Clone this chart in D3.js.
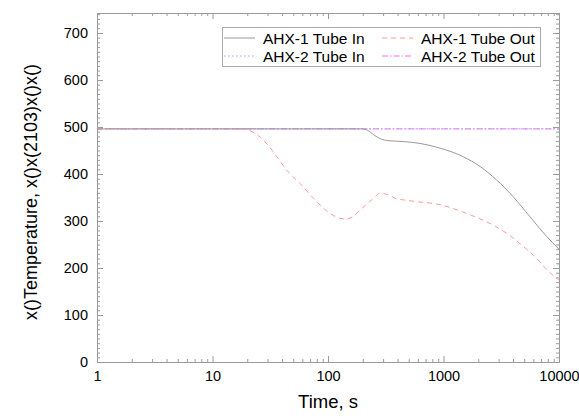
<!DOCTYPE html>
<html>
<head>
    <title>AHX Tube Temperatures</title>
    <script src="https://d3js.org/d3.v7.min.js"></script>
    <style>
        body { margin: 0; background: #fff; }
        text { font-family: Arial, "Liberation Sans", sans-serif; fill: #000; }
    </style>
</head>
<body>
    <svg width="579" height="416"></svg>
    <script>
        // Data: [time in s, temperature]
        const ahx1In = [[1,496],[100,496],[200,496],[220,493],[250,483],[290,474],[330,471],[450,469],
                        [626,465],[933,455],[1475,437],[2070,416],[2890,387],[4000,352],[5610,309],
                        [7820,267],[10000,240]];
        const ahx1Out = [[1,496],[18,496],[22,490],[26,478],[31,458],[37,433],[44,408],[57,380],
                         [80,341],[104,316],[125,306],[145,304],[165,310],[189,323],[247,348],[282,359],
                         [330,356],[393,347],[449,345],[548,342],[1000,333],[1400,321],[2000,306],
                         [2800,289],[3800,268],[4900,246],[6200,224],[7800,197],[10000,174]];
        const ahx2In = [[1,496],[10,496],[100,496],[1000,496],[10000,496]];
        const ahx2Out = [[1,496],[10,496],[100,496],[1000,496],[10000,496]];

        const seriesNames = ["AHX-1 Tube In", "AHX-1 Tube Out", "AHX-2 Tube In", "AHX-2 Tube Out"];
        const xMajor = [1, 10, 100, 1000, 10000];
        const yMajor = [0, 100, 200, 300, 400, 500, 600, 700];

        const series = [
            {name: seriesNames[0], values: ahx1In,  color: "#999999", dash: null},
            {name: seriesNames[1], values: ahx1Out, color: "#ff9a9a", dash: "5,4"},
            {name: seriesNames[2], values: ahx2In,  color: "#a0a0ff", dash: "1.5,2.5"},
            {name: seriesNames[3], values: ahx2Out, color: "#f070f0", dash: "6,2,1.5,2"}
        ];

        // plot frame edges
        const frame = {left: 97, right: 559, top: 13, bottom: 362};
        const svg = d3.select("svg");

        const x = d3.scaleLog().domain([1, 10000]).range([frame.left, frame.right]);
        const y = d3.scaleLinear().domain([0, 742.5]).range([frame.bottom, frame.top]);

        const xMinor = [];
        for (let d = 1; d < 10000; d *= 10) {
            for (let k = 2; k <= 9; k++) xMinor.push(d * k);
        }
        const yMinor = d3.range(0, 742, 10).filter(v => v % 100 !== 0);

        const axisColor = "#9a9a9a";
        function styleAxis(g) {
            g.select(".domain").attr("stroke", axisColor);
            g.selectAll(".tick line").attr("stroke", axisColor);
        }
        function styleLabels(g) {
            g.selectAll("text").attr("font-size", "14.5px")
                .attr("font-family", "Arial, 'Liberation Sans', sans-serif").attr("fill", "#000");
        }

        // Bottom and top axes (ticks pointing inside)
        svg.append("g").attr("transform", `translate(0,${frame.bottom})`)
            .call(d3.axisBottom(x).tickValues(xMajor).tickSize(-6).tickSizeOuter(0)
                .tickPadding(9).tickFormat(d3.format("d")))
            .call(styleAxis).call(styleLabels);
        svg.append("g").attr("transform", `translate(0,${frame.bottom})`)
            .call(d3.axisBottom(x).tickValues(xMinor).tickSize(-3).tickSizeOuter(0).tickFormat(""))
            .call(styleAxis);
        svg.append("g").attr("transform", `translate(0,${frame.top})`)
            .call(d3.axisTop(x).tickValues(xMajor).tickSize(-6).tickSizeOuter(0).tickFormat(""))
            .call(styleAxis);
        svg.append("g").attr("transform", `translate(0,${frame.top})`)
            .call(d3.axisTop(x).tickValues(xMinor).tickSize(-3).tickSizeOuter(0).tickFormat(""))
            .call(styleAxis);

        // Left and right axes
        svg.append("g").attr("transform", `translate(${frame.left},0)`)
            .call(d3.axisLeft(y).tickValues(yMajor).tickSize(-6).tickSizeOuter(0).tickPadding(9))
            .call(styleAxis).call(styleLabels);
        svg.append("g").attr("transform", `translate(${frame.left},0)`)
            .call(d3.axisLeft(y).tickValues(yMinor).tickSize(-3).tickSizeOuter(0).tickFormat(""))
            .call(styleAxis);
        svg.append("g").attr("transform", `translate(${frame.right},0)`)
            .call(d3.axisRight(y).tickValues(yMajor).tickSize(-6).tickSizeOuter(0).tickFormat(""))
            .call(styleAxis);
        svg.append("g").attr("transform", `translate(${frame.right},0)`)
            .call(d3.axisRight(y).tickValues(yMinor).tickSize(-3).tickSizeOuter(0).tickFormat(""))
            .call(styleAxis);

        // Lines
        const line = d3.line()
            .x(d => x(d[0]))
            .y(d => y(d[1]))
            .curve(d3.curveMonotoneX);

        svg.append("g").selectAll("path.series")
            .data(series.slice().reverse())
            .enter().append("path")
            .attr("class", "series")
            .attr("d", d => line(d.values))
            .attr("fill", "none")
            .attr("stroke", d => d.color)
            .attr("stroke-width", 1)
            .attr("stroke-dasharray", d => d.dash);

        // Legend
        const legend = svg.append("g");
        legend.append("rect")
            .attr("x", 222.5).attr("y", 27.5).attr("width", 318).attr("height", 39)
            .attr("fill", "#fff").attr("stroke", "#aaaaaa");
        const cols = [224, 382], rows = [38, 56];
        series.forEach((s, i) => {
            const cx = cols[i % 2], cy = rows[Math.floor(i / 2)];
            legend.append("line")
                .attr("x1", cx).attr("x2", cx + 31).attr("y1", cy).attr("y2", cy)
                .attr("stroke", s.color).attr("stroke-dasharray", s.dash);
            legend.append("text")
                .attr("x", cx + 39).attr("y", cy)
                .attr("dominant-baseline", "central")
                .attr("font-size", "15.5px")
                .text(s.name);
        });

        // Axis titles
        svg.append("text")
            .attr("x", 328).attr("y", 401)
            .attr("text-anchor", "middle").attr("dominant-baseline", "central")
            .attr("font-size", "18.5px")
            .text("Time, s");
        svg.append("text")
            .attr("transform", "translate(31,192) rotate(-90)")
            .attr("text-anchor", "middle").attr("dominant-baseline", "central")
            .attr("font-size", "18px")
            .text("x()Temperature, x()x(2103)x()x()");
    </script>
</body>
</html>
